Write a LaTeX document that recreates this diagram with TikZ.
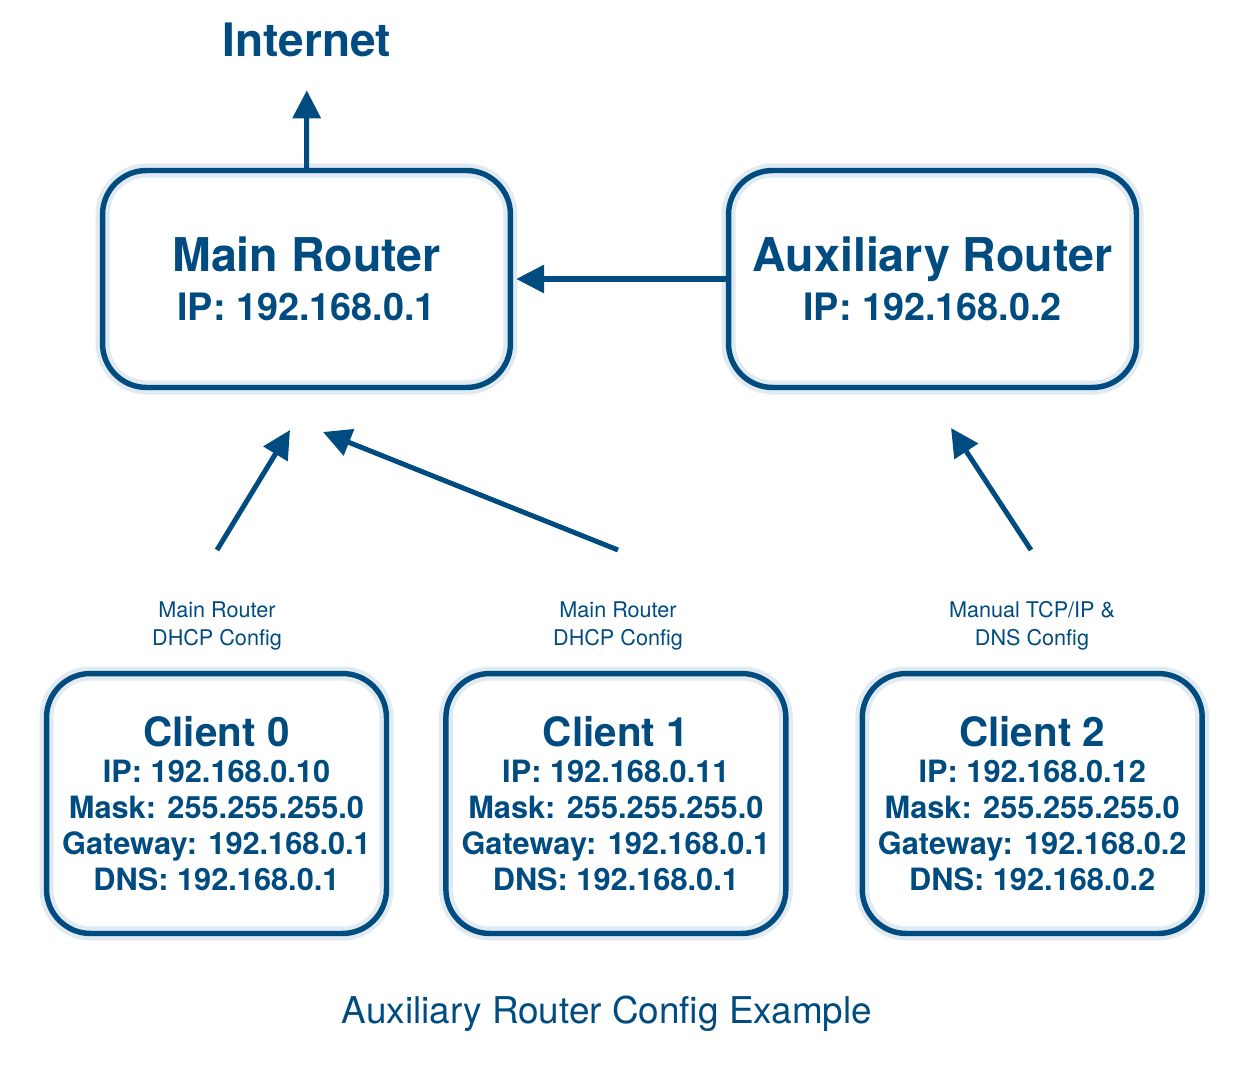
\documentclass[tikz,border=0pt]{standalone}
\usepackage{fontspec}
\setmainfont{TeX Gyre Heros}
\usetikzlibrary{arrows.meta, positioning}
\definecolor{netblue}{RGB}{0,76,128}
\newcommand{\routertitle}{\fontsize{26.5}{28}\selectfont\bfseries}
\newcommand{\clienttitle}{\fontsize{23}{21}\selectfont\bfseries}
\tikzset{-{Triangle[length=0.56cm,width=0.55cm]},
    router/.style={rectangle,draw,rounded corners=0.88cm,align=center,
        minimum width=8.16cm,minimum height=4.34cm,line width=3.1pt,
        preaction={draw=netblue!12,line width=8pt},
        font=\fontsize{21.5}{28}\selectfont\bfseries},
    client/.style={router,minimum width=6.8cm,minimum height=5.2cm,
        font=\fontsize{17.5}{20.5}\selectfont\bfseries},
    hint/.style={align=center,font=\fontsize{12.3}{16}\selectfont},
    heading/.style={font=\fontsize{26.2}{28}\selectfont\bfseries},
    caption/.style={font=\fontsize{21}{24}\selectfont}}

\begin{document}
\begin{tikzpicture}[netblue, line width=2.85pt, x=0.02cm, y=-0.02cm]
\useasboundingbox (0,0) rectangle (1246,1070);

\node[heading]  (net)  at (307,40)       {Internet};
\node[router]   (main) at (306.5,279)    {{\routertitle Main Router}\\IP: 192.168.0.1};
\node[router]   (aux)  at (932.5,279)    {{\routertitle Auxiliary Router}\\IP: 192.168.0.2};

\node[client]   (c0)   at (216.5,803.5)  {{\clienttitle Client 0}\\IP: 192.168.0.10\\Mask: 255.255.255.0\\Gateway: 192.168.0.1\\DNS: 192.168.0.1};
\node[client]   (c1)   [right = 1.08cm of c0] {{\clienttitle Client 1}\\IP: 192.168.0.11\\Mask: 255.255.255.0\\Gateway: 192.168.0.1\\DNS: 192.168.0.1};
\node[client]   (c2)   [right = 1.42cm of c1] {{\clienttitle Client 2}\\IP: 192.168.0.12\\Mask: 255.255.255.0\\Gateway: 192.168.0.2\\DNS: 192.168.0.2};

\node[hint]     (h0)   at (217,626)      {Main Router\\DHCP Config};
\node[hint]     (h1)   at (618,626)      {Main Router\\DHCP Config};
\node[hint]     (h2)   at (1032,626)     {Manual TCP/IP \&\\DNS Config};

\node[caption]  (cap)  at (607,1014)     {Auxiliary Router Config Example};

\coordinate (c0from) at (217,550);
\coordinate (c0to)   at (290,430);
\coordinate (c1from) at (618,550);
\coordinate (c1to)   at (323,432);
\coordinate (c2from) at (1031,550);
\coordinate (c2to)   at (951,428);

\path
    (main.north) edge [shorten >=0.5cm] (net)
    (aux)        edge [shorten >=0.06cm] (main)
    (c0from)     edge (c0to)
    (c1from)     edge (c1to)
    (c2from)     edge (c2to);
\end{tikzpicture}
\end{document}
